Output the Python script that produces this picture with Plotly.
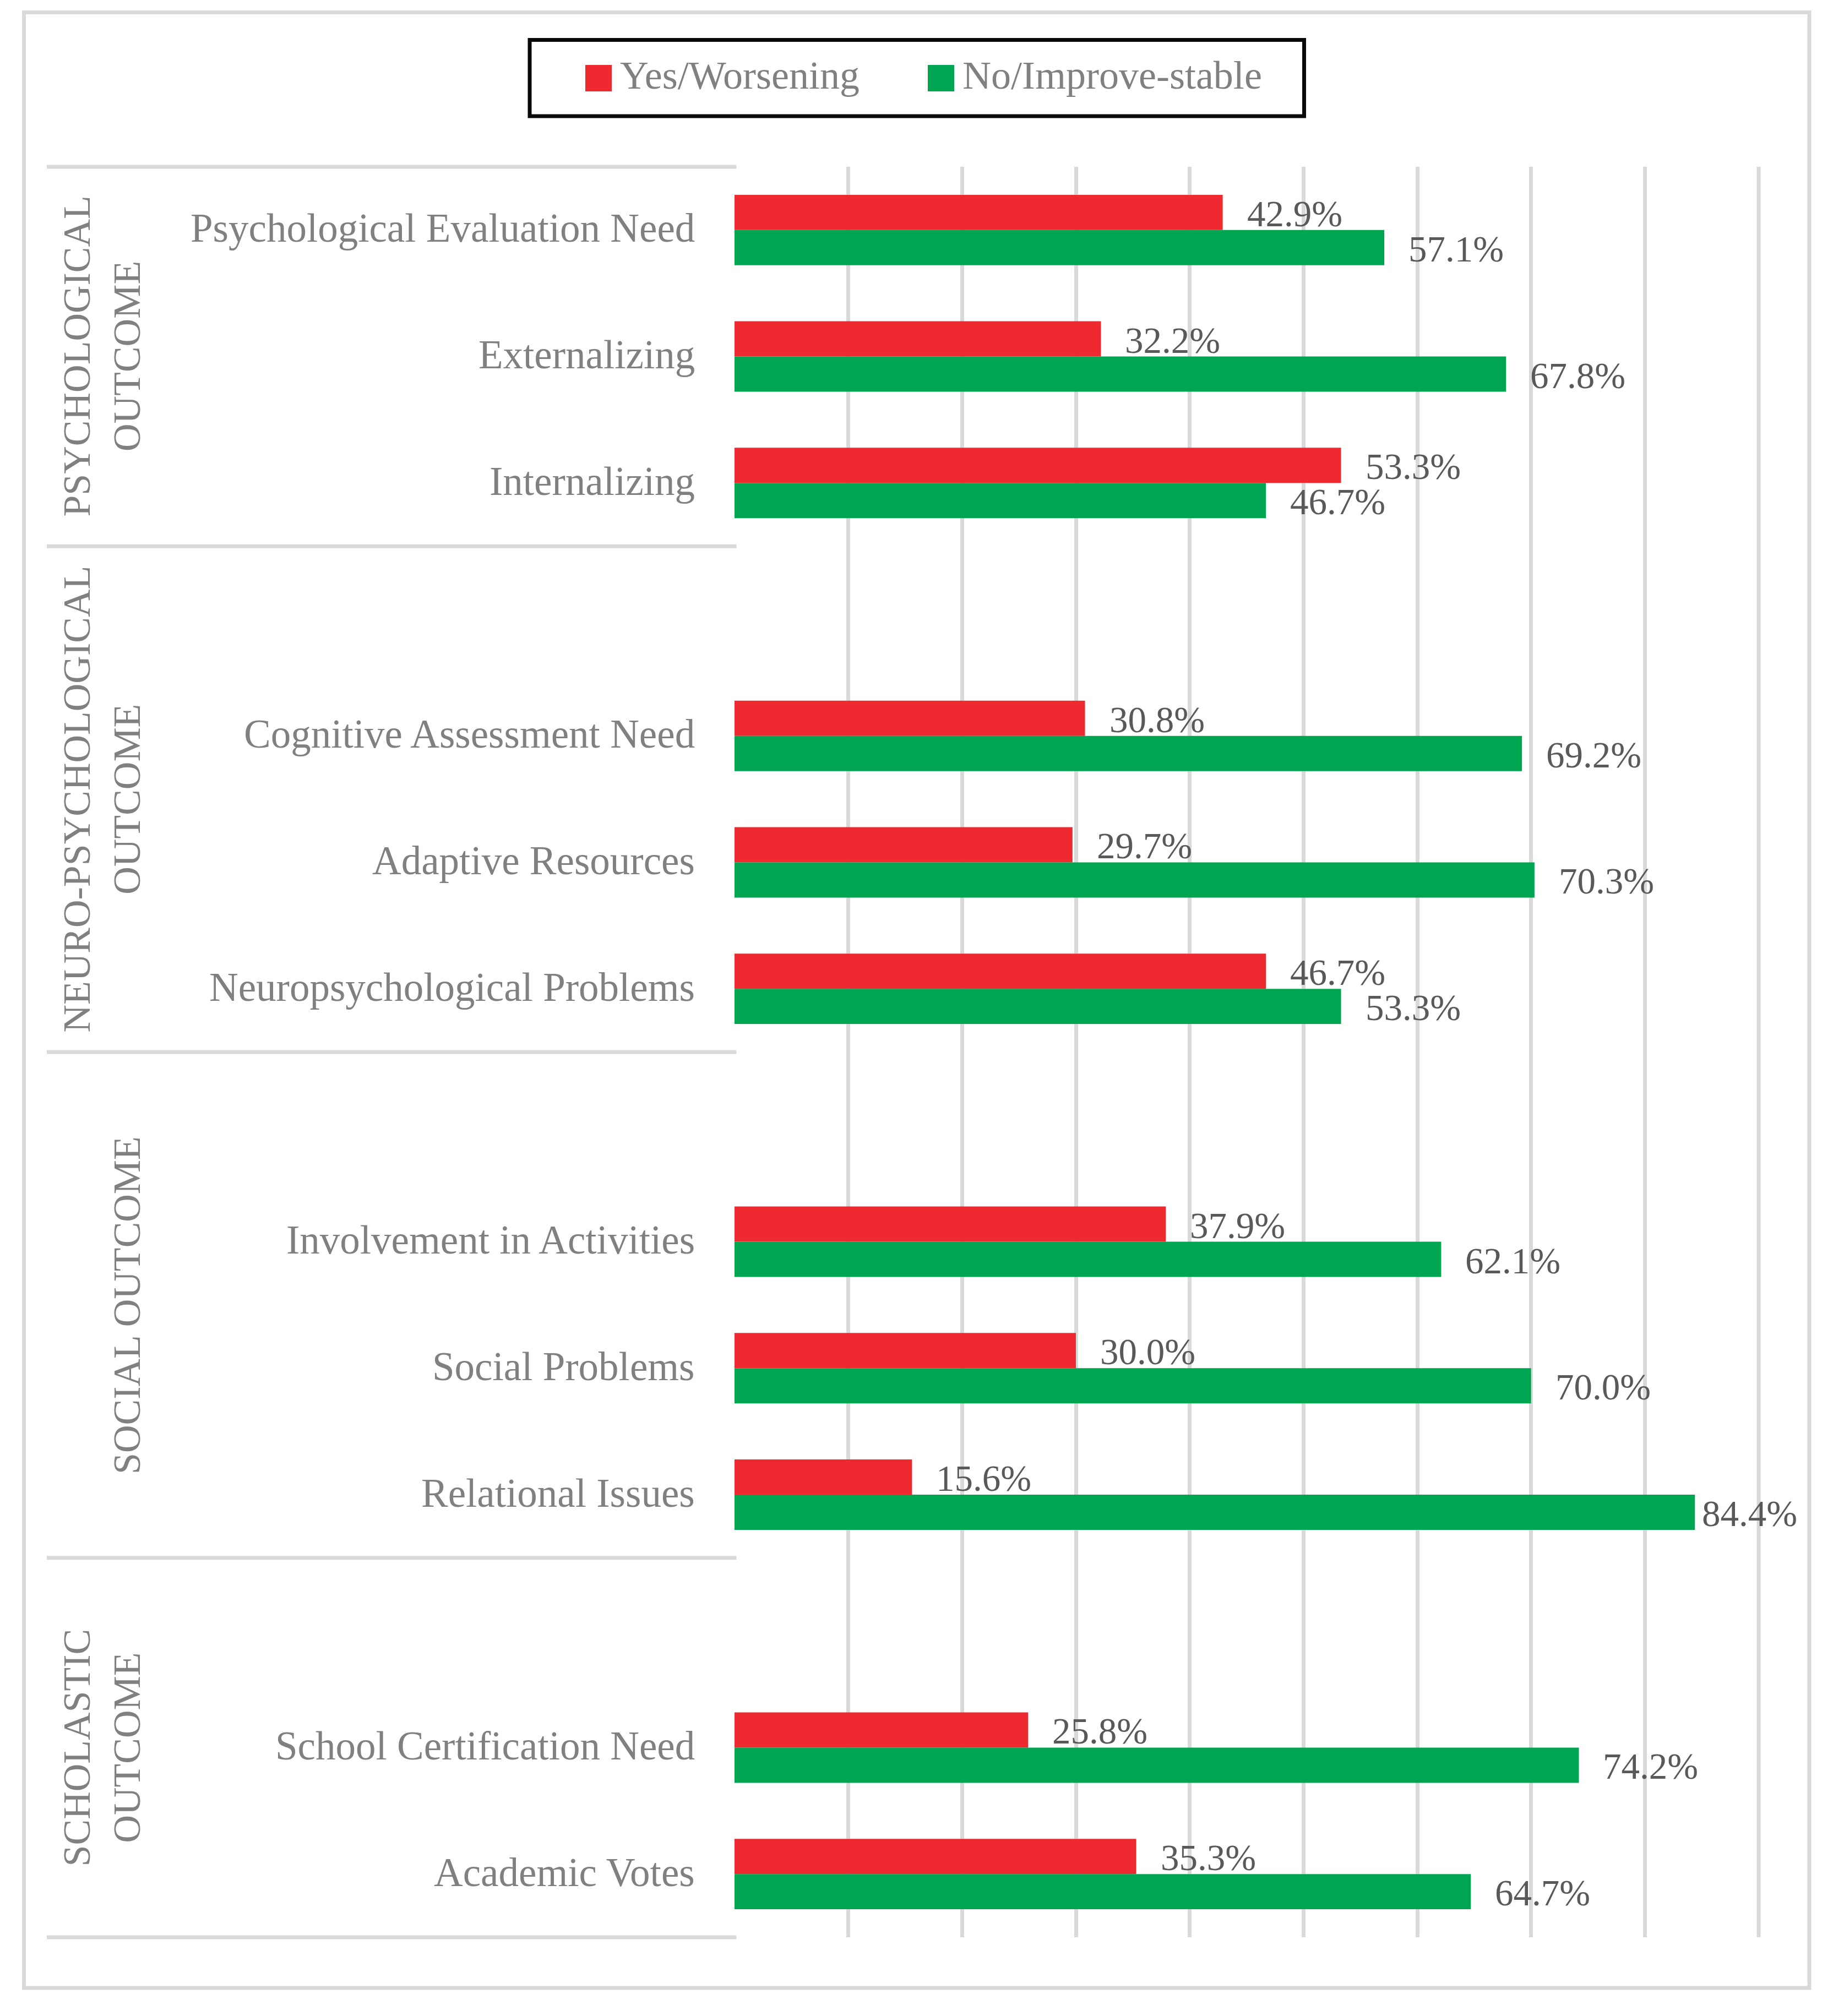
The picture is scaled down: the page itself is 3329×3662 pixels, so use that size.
import plotly.graph_objects as go

# ---------------- data ----------------
groups = ["PSYCHOLOGICAL<br>OUTCOME", "NEURO-PSYCHOLOGICAL<br>OUTCOME",
          "SOCIAL OUTCOME", "SCHOLASTIC<br>OUTCOME"]
categories = ["Psychological Evaluation Need", "Externalizing", "Internalizing",
              "Cognitive Assessment Need", "Adaptive Resources", "Neuropsychological Problems",
              "Involvement in Activities", "Social Problems", "Relational Issues",
              "School Certification Need", "Academic Votes"]
category_group = [0, 0, 0, 1, 1, 1, 2, 2, 2, 3, 3]
yes_worsening = [42.9, 32.2, 53.3, 30.8, 29.7, 46.7, 37.9, 30.0, 15.6, 25.8, 35.3]
no_improve_stable = [57.1, 67.8, 46.7, 69.2, 70.3, 53.3, 62.1, 70.0, 84.4, 74.2, 64.7]
series_names = ["Yes/Worsening", "No/Improve-stable"]
series_colors = ["#EE2930", "#00A551"]
x_max = 90
x_step = 10

# ---------------- geometry ----------------
FIG_W, FIG_H = 3329, 3662
L, R, T, B = 1334, 3194, 303, 3519
W, H = R - L, B - T
FONT = "Liberation Serif"
GRID = "#D9D9D9"


def px(x):
    return (x - L) / W


def py(y):
    return (B - y) / H


# slot positions: every group after the first starts with an empty slot
positions = [i + g for i, g in enumerate(category_group)]
n_slots = positions[-1] + 1
bargap = 0.443
half = (1 - bargap) / 4

fig = go.Figure()
for name, vals, col in zip(series_names, [yes_worsening, no_improve_stable], series_colors):
    fig.add_trace(go.Bar(y=positions, x=vals, orientation="h", name=name,
                         marker=dict(color=col, line=dict(width=0)),
                         showlegend=False, hoverinfo="skip"))

shapes = []
annotations = []

# outer chart border
shapes.append(dict(type="rect", xref="paper", yref="paper",
                   x0=px(43.5), x1=px(3286), y0=py(3611), y1=py(22.5),
                   line=dict(color=GRID, width=7), layer="below"))

# last gridline at the end of the value range (plotly skips the edge one)
shapes.append(dict(type="line", xref="paper", yref="paper", x0=1, x1=1, y0=0, y1=1,
                   line=dict(color=GRID, width=7), layer="below"))

# group boundaries (table lines) and group labels
for g, gname in enumerate(groups):
    members = [p for p, cg in zip(positions, category_group) if cg == g]
    top = members[0] - 0.5 - (1 if g > 0 else 0)
    bot = members[-1] + 0.5
    for b in ([top, bot] if g == 0 else [bot]):
        yp = 1 - (b + 0.5) / n_slots
        shapes.append(dict(type="line", xref="paper", yref="paper",
                           x0=px(85), x1=px(1337.5), y0=yp, y1=yp,
                           line=dict(color=GRID, width=7), layer="below"))
    annotations.append(dict(text=gname, xref="paper", yref="y",
                            x=px(271), y=(top + bot) / 2, xanchor="right", yanchor="middle",
                            textangle=-90, showarrow=False,
                            font=dict(family=FONT, size=70, color="#808080")))

# category labels
for cat, p in zip(categories, positions):
    annotations.append(dict(text=cat, xref="paper", yref="y", x=px(1264), y=p,
                            xanchor="right", yanchor="middle", yshift=3, showarrow=False,
                            font=dict(family=FONT, size=73, color="#808080")))

# value labels
label_w = 173
right_limit = 3262
for vals, sign in [(yes_worsening, -1), (no_improve_stable, 1)]:
    for v, p in zip(vals, positions):
        end_px = L + v * W / x_max
        shift = min(42, right_limit - label_w - end_px)
        annotations.append(dict(text=f"{v:.1f}%", xref="x", yref="y", x=v,
                                y=p + sign * half, xanchor="left", yanchor="middle",
                                xshift=shift, yshift=-2, showarrow=False,
                                font=dict(family=FONT, size=67, color="#595959")))

# legend (drawn manually)
shapes.append(dict(type="rect", xref="paper", yref="paper",
                   x0=px(962), x1=px(2368.5), y0=py(211), y1=py(72.5),
                   line=dict(color="#080A0A", width=7), fillcolor="white", layer="below"))
legend_marker_x = [1063, 1685]
for name, col, mx in zip(series_names, series_colors, legend_marker_x):
    shapes.append(dict(type="rect", xref="paper", yref="paper",
                       x0=px(mx), x1=px(mx + 48), y0=py(166), y1=py(118),
                       line=dict(width=0), fillcolor=col))
    annotations.append(dict(text=name, xref="paper", yref="paper", x=px(mx + 61), y=py(137),
                            xanchor="left", yanchor="middle", showarrow=False,
                            font=dict(family=FONT, size=72, color="#808080")))

fig.update_layout(
    width=FIG_W, height=FIG_H, autosize=False,
    margin=dict(l=L, r=FIG_W - R, t=T, b=FIG_H - B, pad=0),
    paper_bgcolor="white", plot_bgcolor="white",
    barmode="group", bargap=bargap, bargroupgap=0,
    shapes=shapes, annotations=annotations,
    xaxis=dict(range=[0, x_max], tick0=0, dtick=x_step, showgrid=True,
               gridcolor=GRID, gridwidth=7, showticklabels=False, zeroline=False,
               showline=False, ticks="", fixedrange=True),
    yaxis=dict(range=[n_slots - 0.5, -0.5], showticklabels=False, showgrid=False,
               zeroline=False, showline=False, ticks="", fixedrange=True),
)

fig.write_html("out.html", config={"displayModeBar": False})
